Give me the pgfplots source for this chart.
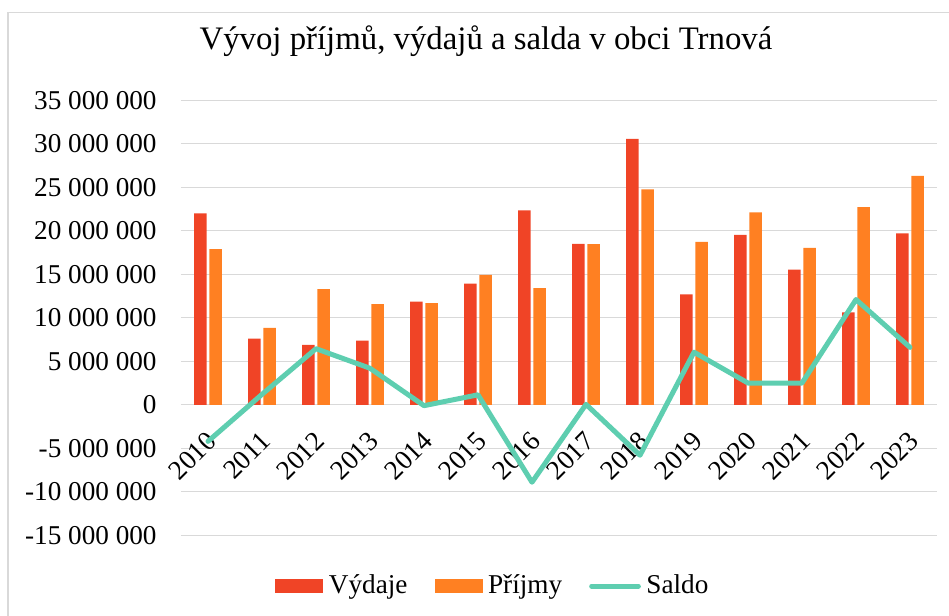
\documentclass[border=0pt]{standalone}
\usepackage{pgfplots}
\pgfplotsset{compat=1.18}
\usepackage{fontspec}
\setmainfont{Liberation Serif}
\definecolor{vyd}{RGB}{240,68,38}
\definecolor{pri}{RGB}{255,128,34}
\definecolor{sal}{RGB}{94,206,176}
\definecolor{grd}{RGB}{217,217,217}
\begin{document}
\begin{tikzpicture}[x=0.5pt,y=0.5pt]
\useasboundingbox (0,0) rectangle (949,616);
\draw[grd, line width=0.6pt] (8,0) -- (8,603.5) -- (949,603.5);
\begin{axis}[
  at={(90.5pt,40.35pt)}, anchor=south west, scale only axis,
  width=378pt, height=217.5pt,
  xmin=-0.5, xmax=13.5, ymin=-15000000, ymax=35000000,
  scaled y ticks=false,
  axis line style={draw=none},
  major tick length=0pt,
  ytick={-15000000,-10000000,-5000000,0,5000000,10000000,15000000,20000000,25000000,30000000,35000000},
  yticklabels={-15 000 000,-10 000 000,-5 000 000,0,5 000 000,10 000 000,15 000 000,20 000 000,25 000 000,30 000 000,35 000 000},
  ymajorgrids, grid style={grd, line width=0.65pt},
  xtick={0,1,2,3,4,5,6,7,8,9,10,11,12,13},
  xticklabels={2010,2011,2012,2013,2014,2015,2016,2017,2018,2019,2020,2021,2022,2023},
  tick label style={font=\fontsize{13.6}{16}\selectfont},
  xticklabel style={xshift=2pt, yshift=49.4pt, rotate=45, anchor=east, inner sep=0pt},
  yticklabel style={anchor=east, inner sep=0pt, xshift=-12pt},
  title={Vývoj příjmů, výdajů a salda v obci Trnová},
  title style={at={(0.4034,1.0887)}, anchor=base, inner sep=0pt, font=\fontsize{16.4}{20}\selectfont},
  legend columns=3,
  legend style={draw=none, fill=none, at={(0.1243,-0.1166)}, anchor=west, inner sep=0pt,
    font=\fontsize{13.6}{16}\selectfont, nodes={inner sep=0pt},
    /tikz/every odd column/.append style={column sep=2.8pt},
    /tikz/every even column/.append style={column sep=13.5pt}},
]
\addplot[ybar, bar width=6.3pt, bar shift=-3.8pt, fill=vyd, draw=none,
  legend image code/.code={\fill[vyd] (0pt,-3.35pt) rectangle (24pt,3.35pt);}]
  coordinates {(0,22000000) (1,7600000) (2,6900000) (3,7370000) (4,11870000) (5,13940000) (6,22350000)
   (7,18500000) (8,30560000) (9,12700000) (10,19540000) (11,15550000) (12,10630000) (13,19700000)};
\addlegendentry{Výdaje}
\addplot[ybar, bar width=6.3pt, bar shift=3.8pt, fill=pri, draw=none,
  legend image code/.code={\fill[pri] (0pt,-3.35pt) rectangle (24pt,3.35pt);}]
  coordinates {(0,17900000) (1,8830000) (2,13300000) (3,11560000) (4,11700000) (5,14930000) (6,13400000)
   (7,18470000) (8,24770000) (9,18730000) (10,22120000) (11,18040000) (12,22730000) (13,26300000)};
\addlegendentry{Příjmy}
\addplot[sharp plot, sal, line width=2.5pt, line join=round, line cap=round, mark=none,
  legend image code/.code={\draw[sal, line width=2.5pt, line cap=round] (1.25pt,0pt) -- (24.6pt,0pt);}]
  coordinates {(0,-4200000) (1,1200000) (2,6450000) (3,4200000) (4,-100000) (5,1150000) (6,-8900000)
   (7,50000) (8,-5800000) (9,6050000) (10,2500000) (11,2500000) (12,12100000) (13,6600000)};
\addlegendentry{Saldo}
\end{axis}
\end{tikzpicture}
\end{document}
